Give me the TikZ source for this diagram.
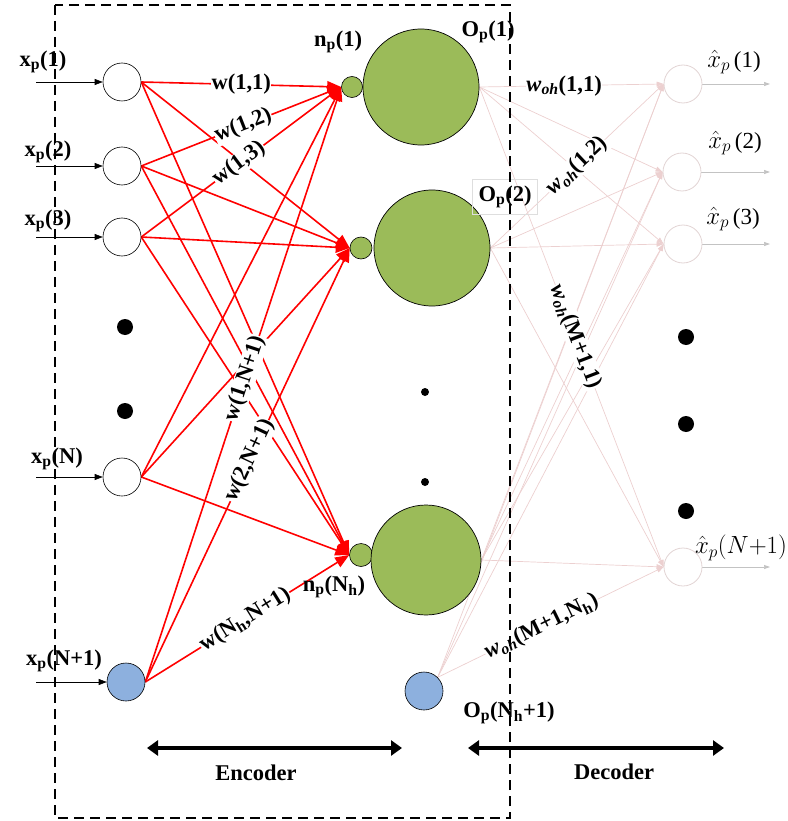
\documentclass[tikz,border=0pt]{standalone}
\usepackage{fontspec}
\setmainfont{Liberation Serif}
\usetikzlibrary{arrows.meta}
\pgfdeclarelayer{edges}
\pgfdeclarelayer{front}
\pgfsetlayers{edges,main,front}
\definecolor{gfill}{RGB}{155,187,89}
\definecolor{bfill}{RGB}{141,176,222}
\definecolor{decC}{RGB}{236,208,208}
\definecolor{outC}{RGB}{226,212,212}
\definecolor{outA}{RGB}{195,195,195}
\definecolor{boxC}{RGB}{222,222,222}
\begin{document}
\begin{tikzpicture}[x=1pt,y=-1pt,
  lbl/.style={font=\fontsize{22.5}{26}\selectfont\bfseries, inner sep=1pt},
  wl/.style={lbl, fill=white, inner sep=0.5pt},
  hl/.style={font=\fontsize{23}{26}\selectfont, inner sep=1pt},
  inp/.style={circle, draw, fill=white, minimum size=38pt, inner sep=0pt, line width=0.6pt},
  binp/.style={inp, fill=bfill},
  smallg/.style={circle, draw, fill=gfill, inner sep=0pt, line width=0.6pt},
  bigg/.style={circle, draw, fill=gfill, inner sep=0pt, line width=0.7pt},
  outn/.style={circle, draw=outC, fill=white, minimum size=38pt, inner sep=0pt, line width=0.8pt},
  bdot/.style={circle, fill=black, minimum size=16pt, inner sep=0pt},
  sdot/.style={circle, fill=black, minimum size=8pt, inner sep=0pt},
  inarr/.style={draw=black, line width=0.6pt, -{Triangle[length=8pt,width=6pt]}},
  redarr/.style={draw=red, line width=1.6pt, -{Triangle[length=14pt,width=11pt]}},
  decarr/.style={draw=decC, line width=0.7pt, -{Triangle[length=7pt,width=5pt]}},
  outarr/.style={draw=outA, line width=0.7pt, -{Triangle[length=6pt,width=4pt]}},
  bigarr/.style={draw=black, line width=4pt, {Triangle[length=11pt,width=15pt]}-{Triangle[length=11pt,width=15pt]}}
]
\useasboundingbox (0,0) rectangle (787,821);

% input layer
\node[inp] (x1) at (122,82) {};
\node[inp] (x2) at (122,166) {};
\node[inp] (x3) at (122,237) {};
\node[inp] (xN) at (122,477) {};
\node[binp] (xB) at (126,682) {};
\node[bdot] (d1) at (125,327) {};
\node[bdot] (d2) at (125,411) {};

\coordinate (s1) at (36,82);
\coordinate (s2) at (36,166);
\coordinate (s3) at (36,237);
\coordinate (sN) at (36,477);
\coordinate (sB) at (36,682);

\node[lbl] (lx1) at (43,62) {x\textsubscript{p}(1)};
\node[lbl] (lx2) at (48,152) {x\textsubscript{p}(2)};
\node[lbl] (lx3) at (48,221) {x\textsubscript{p}(3)};
\node[lbl] (lxN) at (57,459) {x\textsubscript{p}(N)};
\node[lbl] (lxB) at (64,661) {x\textsubscript{p}(N+1)};

% hidden layer
\node[smallg, minimum size=21pt] (n1) at (352,87) {};
\node[smallg, minimum size=22pt] (n2) at (361,248) {};
\node[smallg, minimum size=23pt] (nH) at (361,555) {};
\node[bigg, minimum size=116pt] (O1) at (421,87) {};
\node[bigg, minimum size=116pt] (O2) at (432,248) {};
\node[bigg, minimum size=110pt] (OH) at (426,560) {};
\node[binp] (OB) at (424,691) {};
\node[sdot] (h1) at (425,392) {};
\node[sdot] (h2) at (425,482) {};

\node[lbl] (ln1) at (338,42) {n\textsubscript{p}(1)};
\node[lbl] (lnH) at (334,587) {n\textsubscript{p}(N\textsubscript{h})};
\node[lbl] (lO1) at (488,32) {O\textsubscript{p}(1)};
\node[lbl, draw=boxC, line width=0.6pt, minimum width=65pt, minimum height=35pt] (lO2) at (505,197) {O\textsubscript{p}(2)};
\node[lbl] (lOB) at (509,713) {O\textsubscript{p}(N\textsubscript{h}+1)};

% output layer
\node[outn] (y1) at (683,84) {};
\node[outn] (y2) at (682,172) {};
\node[outn] (y3) at (683,244) {};
\node[outn] (yN) at (683,567) {};
\node[bdot] (e1) at (686,337) {};
\node[bdot] (e2) at (686,424) {};
\node[bdot] (e3) at (686,511) {};

\coordinate (t1) at (770,84);
\coordinate (t2) at (770,172);
\coordinate (t3) at (770,244);
\coordinate (tN) at (770,567);

\node[hl] (ly1) at (734,62) {$\hat{x}_{p}$\,(1)};
\node[hl] (ly2) at (735,143) {$\hat{x}_{p}$\,(2)};
\node[hl] (ly3) at (733,219) {$\hat{x}_{p}$\,(3)};
\node[hl] (lyN) at (741,548) {$\hat{x}_{p}(N{+}1)$};

% encoder / decoder
\coordinate (ea) at (147,748);
\coordinate (eb) at (402,748);
\coordinate (da) at (468,748);
\coordinate (db) at (724,748);
\node[lbl] (enc) at (256,773) {Encoder};
\node[lbl] (dec) at (614,772) {Decoder};

\begin{pgfonlayer}{edges}
  \draw[inarr] (s1) -- (x1);
  \draw[inarr] (s2) -- (x2);
  \draw[inarr] (s3) -- (x3);
  \draw[inarr] (sN) -- (xN);
  \draw[inarr] (sB) -- (xB);
  \foreach \o in {O1,O2,OH}
    \foreach \y in {y1,y2,y3,yN}
      \draw[decarr] (\o.east) -- (\y.west);
  \foreach \y in {y1,y2,y3,yN}
    \draw[decarr] (OB.north east) -- (\y.west);
  \foreach \i in {x1,x2,x3,xN,xB}
    \foreach \h in {n1,n2,nH}
      \draw[redarr] (\i.east) -- (\h.west);
  \draw[outarr] (y1) -- (t1);
  \draw[outarr] (y2) -- (t2);
  \draw[outarr] (y3) -- (t3);
  \draw[outarr] (yN) -- (tN);
\end{pgfonlayer}

% weight labels
\path (x1.east) -- node[wl, pos=0.5] {w(1,1)} (n1.west);
\path (x2.east) -- node[wl, sloped, pos=0.51] {w(1,2)} (n1.west);
\path (x3.east) -- node[wl, sloped, pos=0.49] {w(1,3)} (n1.west);
\path (xB.east) -- node[wl, sloped, pos=0.51] {w(1,N+1)} (n1.west);
\path (xB.east) -- node[wl, sloped, pos=0.51] {w(2,N+1)} (n2.west);
\path (xB.east) -- node[wl, sloped, pos=0.49] {w(N\textsubscript{h},N+1)} (nH.west);

\path (O1.east) -- node[wl, pos=0.46] {\textit{w}\textsubscript{\textit{oh}}(1,1)} (y1.west);
\path (O2.east) -- node[wl, sloped, pos=0.5] {\textit{w}\textsubscript{\textit{oh}}(1,2)} (y1.west);
\path (O1.east) -- node[wl, sloped, pos=0.52] {\textit{w}\textsubscript{\textit{oh}}(M+1,1)} (yN.west);
\path (OB.north east) -- node[wl, sloped, pos=0.46] {\textit{w}\textsubscript{\textit{oh}}(M+1,N\textsubscript{h})} (yN.west);

\draw[bigarr] (ea) -- (eb);
\draw[bigarr] (da) -- (db);

\begin{pgfonlayer}{front}
  \draw[dashed, dash pattern=on 10pt off 6pt, line width=1.4pt] (55,5) rectangle (510,818);
\end{pgfonlayer}
\end{tikzpicture}
\end{document}
